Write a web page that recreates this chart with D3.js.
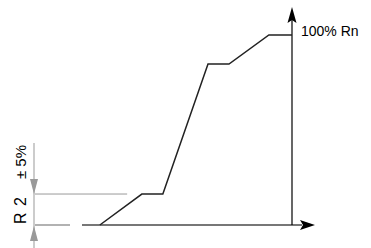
<!DOCTYPE html>
<html>
<head>
<meta charset="utf-8">
<script src="https://cdn.jsdelivr.net/npm/d3@7"></script>
<style>
  body { margin: 0; background: #fff; }
  text { font-family: "Liberation Sans", Arial, sans-serif; }
</style>
</head>
<body>
<div id="chart"></div>
<script>
// step curve: time (% of axis) and level (% of Rn)
const times  = [8.5, 28.5, 38.5, 60, 70, 89, 100];
const levels = [0, 16.3, 16.3, 84.7, 84.7, 100, 100];
const r2Level = 16.3;
const topLabel = "100% Rn";
const dimLabel = "R 2";
const tolLabel = "\u00B1 5%";

const width = 371, height = 248;

const svg = d3.select("#chart").append("svg")
    .attr("width", width)
    .attr("height", height);

// scales
const x = d3.scaleLinear().domain([0, 100]).range([82, 292]);
const y = d3.scaleLinear().domain([0, 100]).range([225, 35]);

const grey = "#999";

// x axis (grey line + black arrow)
svg.append("line")
    .attr("x1", x(0)).attr("x2", 302)
    .attr("y1", y(0)).attr("y2", y(0))
    .attr("stroke", "#777").attr("stroke-width", 2);
svg.append("path")
    .attr("d", `M315,${y(0)} L300,${y(0)-5} L303,${y(0)} L300,${y(0)+5} Z`)
    .attr("fill", "#000");

// y axis at end of ramp
svg.append("line")
    .attr("x1", x(100)).attr("x2", x(100))
    .attr("y1", y(0)).attr("y2", 20)
    .attr("stroke", "#000").attr("stroke-width", 1.2);
svg.append("path")
    .attr("d", `M${x(100)},7 L${x(100)-4.5},23 L${x(100)},20 L${x(100)+4.5},23 Z`)
    .attr("fill", "#000");

svg.append("text")
    .attr("x", 301).attr("y", y(100) + 1)
    .attr("font-size", 14)
    .attr("fill", "#000")
    .text(topLabel);

// extension lines for R2 dimension
svg.append("line")
    .attr("x1", 35).attr("x2", x(21.5))
    .attr("y1", y(r2Level)).attr("y2", y(r2Level))
    .attr("stroke", grey).attr("stroke-width", 1);
svg.append("line")
    .attr("x1", 35).attr("x2", 70)
    .attr("y1", y(0)).attr("y2", y(0))
    .attr("stroke", grey).attr("stroke-width", 1.5);

// dimension line with arrows
svg.append("line")
    .attr("x1", 34).attr("x2", 34)
    .attr("y1", 143).attr("y2", 248)
    .attr("stroke", grey).attr("stroke-width", 1);
svg.append("path")
    .attr("d", `M34,${y(r2Level)} L30,${y(r2Level)-15} L38,${y(r2Level)-15} Z`)
    .attr("fill", grey);
svg.append("path")
    .attr("d", `M34,${y(0)+1} L30,${y(0)+16} L38,${y(0)+16} Z`)
    .attr("fill", grey);

// rotated labels
svg.append("text")
    .attr("transform", "translate(26,210) rotate(-90)")
    .attr("text-anchor", "middle")
    .attr("font-size", 16)
    .attr("letter-spacing", 1)
    .text(dimLabel);
svg.append("text")
    .attr("transform", "translate(26,162) rotate(-90)")
    .attr("text-anchor", "middle")
    .attr("font-size", 15)
    .text(tolLabel);

// the curve
const line = d3.line()
    .x((d, i) => x(times[i]))
    .y(d => y(d));

svg.append("path")
    .datum(levels)
    .attr("d", line)
    .attr("fill", "none")
    .attr("stroke", "#222")
    .attr("stroke-width", 1.5)
    .attr("stroke-linejoin", "miter");
</script>
</body>
</html>
